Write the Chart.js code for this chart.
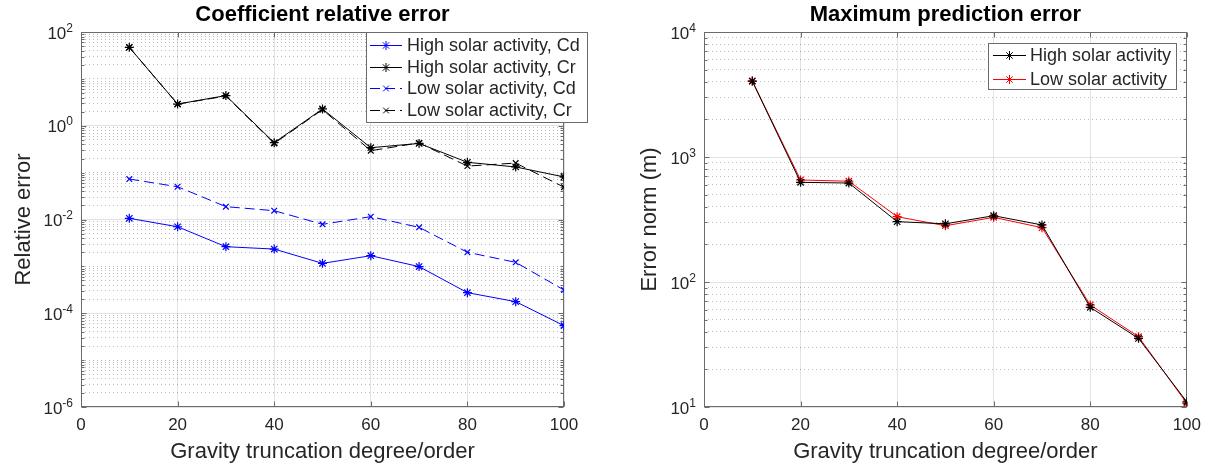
<!DOCTYPE html>
<html>
<head>
<meta charset="utf-8">
<script src="https://cdn.jsdelivr.net/npm/chart.js@4.4.1/dist/chart.umd.min.js"></script>
<style>
  html, body { margin: 0; padding: 0; background: #fff; overflow: hidden; }
  .wrap { position: absolute; top: 0; height: 468px; }
  #left { left: 0; width: 620px; }
  #right { left: 620px; width: 589px; }
</style>
</head>
<body>
<div class="wrap" id="left"><canvas id="coefChart"></canvas></div>
<div class="wrap" id="right"><canvas id="predChart"></canvas></div>
<script>
// data
const degrees = [10, 20, 30, 40, 50, 60, 70, 80, 90, 100];
const xTicks = [0, 20, 40, 60, 80, 100];

const highCd = [0.0106, 0.0070, 0.00263, 0.00234, 0.00116, 0.00169, 0.00099, 0.000275, 0.000177, 0.0000543];
const highCr = [47, 2.9, 4.4, 0.435, 2.28, 0.34, 0.42, 0.166, 0.132, 0.081];
const lowCd = [0.073, 0.050, 0.0188, 0.0154, 0.0079, 0.0115, 0.0068, 0.0020, 0.00122, 0.000313];
const lowCr = [47, 2.9, 4.3, 0.42, 2.2, 0.294, 0.43, 0.138, 0.16, 0.049];

const highErr = [4050, 627, 619, 304, 292, 339, 286, 62.7, 35.4, 11.0];
const lowErr = [4050, 655, 640, 333, 282, 329, 272, 65.5, 36.5, 10.7];

// y tick labels, as powers of ten
const coefTickExp = [-6, -4, -2, 0, 2];
const errTickExp = [1, 2, 3, 4];

const TXT = '#262626';
const FONT = '"Liberation Sans", Arial, Helvetica, sans-serif';
const AXIS = '#6b6b6b';

function logTicks(labelExp) {
    const lo = labelExp[0], hi = labelExp[labelExp.length - 1];
    const out = [];
    for (let e = lo; e < hi; e++) {
        for (let m = 1; m < 10; m++) {
            out.push({ value: m * Math.pow(10, e), major: m === 1 && labelExp.includes(e), exp: m === 1 ? e : null });
        }
    }
    out.push({ value: Math.pow(10, hi), major: true, exp: hi });
    return out;
}

// axes box with inward ticks, MATLAB style
const boxPlugin = {
    id: 'boxPlugin',
    beforeDatasetsDraw(chart) {
        const { ctx, chartArea: a, scales } = chart;
        ctx.save();
        ctx.strokeStyle = AXIS;
        ctx.lineWidth = 1;
        ctx.setLineDash([]);
        const L = Math.round(a.left) + 0.5, R = Math.round(a.right) - 0.5;
        const T = Math.round(a.top) + 0.5, B = Math.round(a.bottom) - 0.5;
        ctx.strokeRect(L, T, R - L, B - T);
        ctx.beginPath();
        scales.y.ticks.forEach(t => {
            const p = Math.round(scales.y.getPixelForValue(t.value)) + 0.5;
            const len = t.major ? 5 : 3;
            ctx.moveTo(L, p); ctx.lineTo(L + len, p);
            ctx.moveTo(R, p); ctx.lineTo(R - len, p);
        });
        scales.x.ticks.forEach(t => {
            const p = Math.round(scales.x.getPixelForValue(t.value)) + 0.5;
            ctx.moveTo(p, B); ctx.lineTo(p, B - 5);
            ctx.moveTo(p, T); ctx.lineTo(p, T + 5);
        });
        ctx.stroke();
        ctx.restore();
    },
    // y labels as 10 with a raised exponent
    afterDraw(chart) {
        const { ctx, chartArea: a, scales } = chart;
        const right = a.left - 8;
        ctx.save();
        ctx.fillStyle = TXT;
        ctx.textAlign = 'right';
        ctx.textBaseline = 'alphabetic';
        scales.y.ticks.forEach(t => {
            if (!t.major) return;
            const p = scales.y.getPixelForValue(t.value);
            const e = String(t.exp);
            ctx.font = '12px ' + FONT;
            const ew = ctx.measureText(e).width;
            ctx.fillText(e, right, p - 0.5);
            ctx.font = '17px ' + FONT;
            ctx.fillText('10', right - ew, p + 6.5);
        });
        ctx.restore();
    }
};

// legend box drawn inside the axes
const legendPlugin = {
    id: 'matLegend',
    afterDraw(chart, args, o) {
        const ctx = chart.ctx;
        ctx.save();
        ctx.fillStyle = '#fff';
        ctx.fillRect(o.x, o.y, o.w, o.h);
        ctx.strokeStyle = AXIS;
        ctx.lineWidth = 1;
        ctx.strokeRect(o.x + 0.5, o.y + 0.5, o.w - 1, o.h - 1);
        ctx.font = o.fontSize + 'px ' + FONT;
        ctx.textBaseline = 'middle';
        chart.data.datasets.forEach((ds, i) => {
            const cy = Math.round(o.y + o.first + i * o.row) + 0.5;
            ctx.strokeStyle = ds.borderColor;
            ctx.lineWidth = 1;
            ctx.setLineDash(ds.borderDash || []);
            ctx.beginPath();
            ctx.moveTo(o.x + o.l0, cy);
            ctx.lineTo(o.x + o.l1, cy);
            ctx.stroke();
            ctx.setLineDash([]);
            ctx.fillStyle = ds.borderColor;
            Chart.helpers.drawPoint(ctx, { pointStyle: ds.pointStyle, radius: ds.pointRadius, rotation: 0, borderWidth: 1 },
                o.x + (o.l0 + o.l1) / 2, cy);
            ctx.fillStyle = TXT;
            ctx.fillText(ds.label, o.x + o.tx, cy + 1);
        });
        ctx.restore();
    }
};

function series(label, data, color, style, dash) {
    return {
        label: label,
        data: data,
        borderColor: color,
        backgroundColor: color,
        borderWidth: 1,
        borderDash: dash || [],
        pointStyle: style,
        pointRadius: style === 'star' ? 4.5 : 4,
        pointBorderWidth: 1.2,
        pointBorderColor: color,
        pointBackgroundColor: color,
        fill: false,
        tension: 0
    };
}

function makeOptions(cfg) {
    return {
        responsive: true,
        maintainAspectRatio: false,
        animation: false,
        devicePixelRatio: 1,
        layout: { padding: { left: cfg.padLeft, right: cfg.padRight, top: 0, bottom: 3 } },
        plugins: {
            legend: { display: false },
            tooltip: { enabled: false },
            title: {
                display: true,
                text: cfg.title,
                fullSize: false,
                color: '#000',
                font: { family: FONT, size: 22, weight: 'bold' },
                padding: { top: 2, bottom: 3.6 }
            },
            matLegend: cfg.legend
        },
        scales: {
            x: {
                type: 'linear',
                min: 0,
                max: 100,
                afterBuildTicks: (s) => { s.ticks = xTicks.map(v => ({ value: v })); },
                afterFit: (s) => { s.height = 58; },
                ticks: { color: TXT, font: { family: FONT, size: 17 }, padding: 8, maxRotation: 0, autoSkip: false },
                grid: { color: 'rgba(38,38,38,0.13)', drawTicks: false },
                border: { display: false },
                title: {
                    display: true,
                    text: 'Gravity truncation degree/order',
                    color: TXT,
                    font: { family: FONT, size: 22 },
                    padding: { top: 0, bottom: 0 }
                }
            },
            y: {
                type: 'logarithmic',
                min: Math.pow(10, cfg.tickExp[0]),
                max: Math.pow(10, cfg.tickExp[cfg.tickExp.length - 1]),
                afterBuildTicks: (s) => { s.ticks = logTicks(cfg.tickExp); },
                afterFit: (s) => { s.width = cfg.yWidth; },
                ticks: {
                    color: TXT,
                    font: { family: FONT, size: 17 },
                    padding: 8,
                    autoSkip: false,
                    callback: () => ''
                },
                grid: {
                    drawTicks: false,
                    color: (c) => c.tick && c.tick.major ? 'rgba(38,38,38,0.13)' : 'rgba(38,38,38,0.3)'
                },
                border: {
                    display: false,
                    dash: (c) => c.tick && c.tick.major ? [] : [1, 3]
                },
                title: {
                    display: true,
                    text: cfg.yTitle,
                    color: TXT,
                    font: { family: FONT, size: 22 },
                    padding: { top: 0, bottom: 0 }
                }
            }
        }
    };
}

new Chart(document.getElementById('coefChart'), {
    type: 'line',
    data: {
        labels: degrees,
        datasets: [
            series('High solar activity, Cd', degrees.map((d, i) => ({ x: d, y: highCd[i] })), '#0000ff', 'star'),
            series('High solar activity, Cr', degrees.map((d, i) => ({ x: d, y: highCr[i] })), '#000000', 'star'),
            series('Low solar activity, Cd', degrees.map((d, i) => ({ x: d, y: lowCd[i] })), '#0000ff', 'crossRot', [10, 5]),
            series('Low solar activity, Cr', degrees.map((d, i) => ({ x: d, y: lowCr[i] })), '#000000', 'crossRot', [10, 5])
        ]
    },
    options: makeOptions({
        title: 'Coefficient relative error',
        yTitle: 'Relative error',
        tickExp: coefTickExp,
        padLeft: 11,
        padRight: 56,
        yWidth: 70,
        legend: { x: 366, y: 32, w: 222, h: 91, first: 13, row: 21.7, l0: 4, l1: 36, tx: 41, fontSize: 18 }
    }),
    plugins: [boxPlugin, legendPlugin]
});

new Chart(document.getElementById('predChart'), {
    type: 'line',
    data: {
        labels: degrees,
        datasets: [
            series('High solar activity', degrees.map((d, i) => ({ x: d, y: highErr[i] })), '#000000', 'star'),
            series('Low solar activity', degrees.map((d, i) => ({ x: d, y: lowErr[i] })), '#ff0000', 'star')
        ]
    },
    options: makeOptions({
        title: 'Maximum prediction error',
        yTitle: 'Error norm (m)',
        tickExp: errTickExp,
        padLeft: 17,
        padRight: 21,
        yWidth: 67,
        legend: { x: 368, y: 43, w: 189, h: 47, first: 12, row: 23.5, l0: 5, l1: 38, tx: 42, fontSize: 18 }
    }),
    plugins: [boxPlugin, legendPlugin]
});
</script>
</body>
</html>
